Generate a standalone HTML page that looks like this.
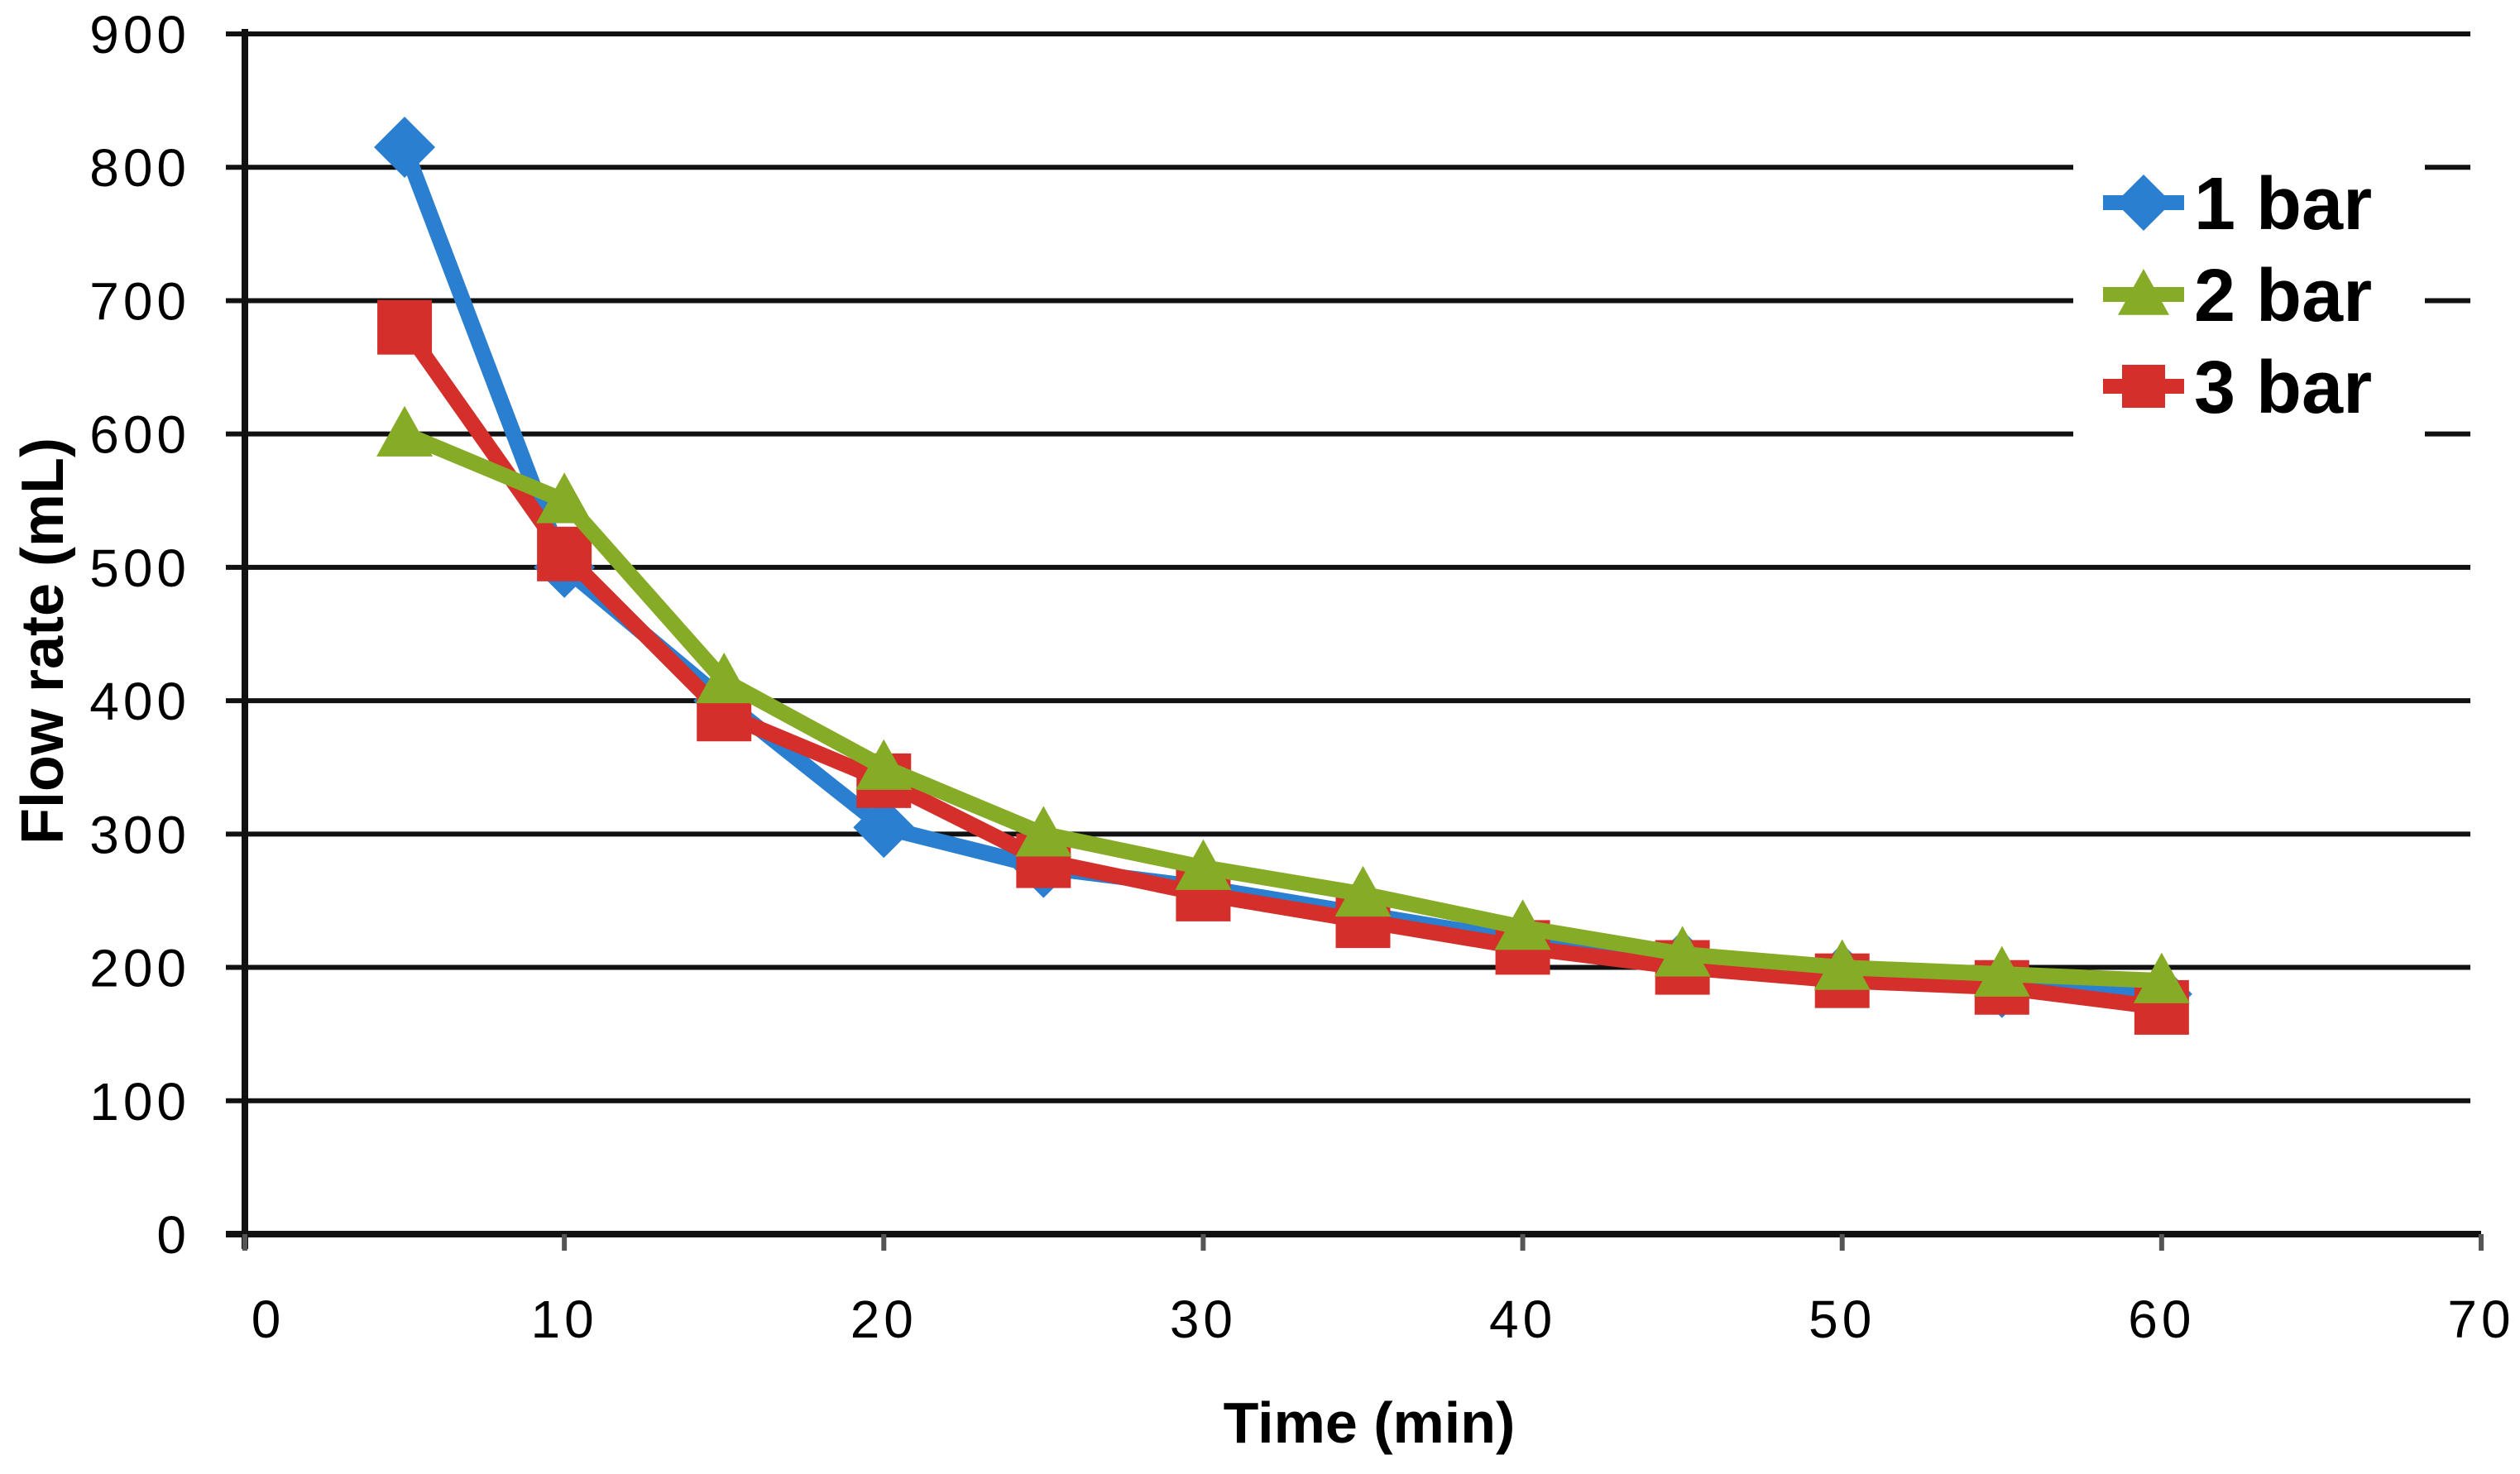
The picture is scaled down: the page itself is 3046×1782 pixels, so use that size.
<!DOCTYPE html>
<html><head><meta charset="utf-8"><style>
html,body{margin:0;padding:0;background:#fff}
svg{display:block}
text{font-family:"Liberation Sans",sans-serif;fill:#000}
</style></head><body>
<svg id="chart" width="3046" height="1782" viewBox="0 0 3046 1782">
<g id="grid"></g>
<g id="axes"></g>
<g id="series"></g>
<g id="legend"></g>
<text x="1655" y="1744" font-size="70" font-weight="bold" text-anchor="middle">Time (min)</text>
<text transform="translate(76,775) rotate(-90)" font-size="72" font-weight="bold" text-anchor="middle">Flow rate (mL)</text>
</svg>
<script>
const times = [5,10,15,20,25,30,35,40,45,50,55,60];
const bar1 = [815,500,400,305,275,260,240,220,205,195,185,180];
const bar2 = [600,550,415,350,300,275,255,230,210,200,195,190];
const bar3 = [680,510,390,340,280,255,235,215,200,190,185,170];
const yTicks = [0,100,200,300,400,500,600,700,800,900];
const xTicks = [0,10,20,30,40,50,60,70];
const seriesNames = ["1 bar","2 bar","3 bar"];

const NS="http://www.w3.org/2000/svg";
const X0=296,X1=2999,Y0=1492,Y1=41;
const sx=v=>X0+(v/70)*(X1-X0);
const sy=v=>Y0-(v/900)*(Y0-Y1);
function mk(tag,attrs,parent){const e=document.createElementNS(NS,tag);for(const k in attrs)e.setAttribute(k,attrs[k]);parent.appendChild(e);return e;}
const grid=document.getElementById('grid'),axes=document.getElementById('axes'),ser=document.getElementById('series'),leg=document.getElementById('legend');

yTicks.forEach(t=>{
  if(t>0){const l=mk('line',{x1:273,x2:2986,y1:sy(t),y2:sy(t),stroke:'#111','stroke-width':6},grid);
  
  }
  const tx=mk('text',{x:230,y:sy(t)+23,'font-size':64,'letter-spacing':5,'text-anchor':'end'},axes);
  tx.textContent=t;
  
  
});
const xa=mk('line',{x1:273,x2:X1,y1:Y0,y2:Y0,stroke:'#111','stroke-width':8},axes);


const ya=mk('line',{x1:X0,x2:X0,y1:35,y2:1510,stroke:'#111','stroke-width':8},axes);


xTicks.forEach(t=>{
  const tk=mk('line',{x1:sx(t),x2:sx(t),y1:Y0,y2:Y0+20,stroke:'#555','stroke-width':6},axes);
  
  
  const tx=mk('text',{x:sx(t)+(t===0?28:0),y:1617,'font-size':64,'letter-spacing':5,'text-anchor':'middle'},axes);
  tx.textContent=t;
  
  
});

const colors=['#2a7fd0','#86ab27','#d42f2a'];
function marker(kind,x,y,parent,s){
  let e;
  if(kind===0) e=mk('polygon',{points:`${x},${y-s} ${x+s},${y} ${x},${y+s} ${x-s},${y}`,fill:colors[0]},parent);
  else if(kind===1) e=mk('polygon',{points:`${x},${y-s} ${x+s},${y+s*0.8} ${x-s},${y+s*0.8}`,fill:colors[1]},parent);
  else e=mk('rect',{x:x-s,y:y-s,width:2*s,height:2*s,fill:colors[2]},parent);
  return e;
}
const data=[bar1,bar3,bar2];const kinds=[0,2,1];
data.forEach((d,i)=>{
  const k=kinds[i];
  const g=mk('g',{},ser);
  
  
  const pl=mk('polyline',{points:times.map((t,j)=>sx(t)+','+sy(d[j])).join(' '),fill:'none',stroke:colors[k],'stroke-width':19,'stroke-linejoin':'round'},g);
  
  
  times.forEach((t,j)=>{
    const m=marker(k,sx(t),sy(d[j]),g,k===0?37:(k===1?34:33));
    
    
  });
});

const bg=mk('rect',{x:2506,y:180,width:425,height:350,fill:'#fff'},leg);


[0,1,2].forEach(k=>{
  const y=[245,356,467][k];
  const g=mk('g',{},leg);
  
  
  mk('line',{x1:2542,x2:2640,y1:y,y2:y,stroke:colors[k],'stroke-width':18},g);
  marker(k,2591,y,g,k===0?34:(k===1?31:26));
  const t=mk('text',{x:2652,y:y+32,'font-size':90,'font-weight':'bold'},g);
  t.textContent=seriesNames[k];
});
</script>
</body></html>
